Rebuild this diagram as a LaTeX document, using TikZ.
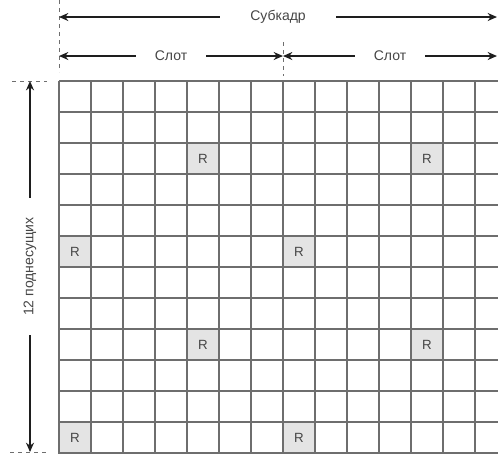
\documentclass[tikz,border=0pt]{standalone}
\usepackage{fontspec}
\setmainfont{Liberation Sans}
\usetikzlibrary{arrows.meta, positioning, calc}
\definecolor{gridgray}{RGB}{110,110,110}
\definecolor{refgray}{RGB}{228,228,228}
\definecolor{labeltext}{RGB}{70,70,70}
\definecolor{dimline}{RGB}{30,30,30}

\begin{document}
\begin{tikzpicture}[x=0.75pt, y=-0.75pt,
  gridline/.style={gridgray, line width=1.5pt},
  rcell/.style={draw=gridgray, line width=1.5pt, fill=refgray, minimum width=24pt,
    minimum height=23.25pt, inner sep=0pt, font=\fontsize{10}{12}\selectfont, text=labeltext},
  dimarr/.style={{Stealth[length=7pt,width=6pt]}-{Stealth[length=7pt,width=6pt]}, dimline, line width=1.2pt},
  dimlbl/.style={fill=white, midway, inner sep=0pt, minimum height=12pt,
    font=\fontsize{10.5}{12}\selectfont, text=labeltext},
  guide/.style={gridgray, line width=0.7pt, dash pattern=on 3pt off 3pt}
]
  \useasboundingbox (0,0) rectangle (498,455);
  \clip (0,0) rectangle (498,455);

  % grid corners and slot boundary
  \coordinate (gtl) at (59,81);
  \coordinate (gbl) at (59,453);
  \coordinate (gmid) at (283,81);

  % resource grid: 14 symbols x 12 subcarriers
  \foreach \c in {0,...,14}
    \draw[gridline] (59+32*\c,81) -- ++(0,372);
  \foreach \r in {0,...,12}
    \draw[gridline] (59,81+31*\r) -- ++(448,0);

  % reference signals
  \foreach \c/\r in {5/3, 12/3, 1/6, 8/6, 5/9, 12/9, 1/12, 8/12}
    \node[rcell] (r-\c-\r) at (59+32*\c-16, 81+31*\r-15.5) {R};

  % guides
  \draw[guide] (59,0) -- (59,72);
  \draw[guide] (283,42) -- (283,76);
  \draw[guide] (12,81) -- (47,81);
  \draw[guide] (10,452) -- (48,452);

  % dimension arrows
  \coordinate (sf-l) at (59,17);
  \coordinate (sf-r) at (497,17);
  \coordinate (s1-l) at (59,56);
  \coordinate (s1-r) at (283,56);
  \coordinate (s2-l) at (283,56);
  \coordinate (s2-r) at (497,56);
  \coordinate (sc-t) at (30,81);
  \coordinate (sc-b) at (30,452);

  \draw[dimarr] (sf-l) -- (sf-r) node[dimlbl, minimum width=87pt] {Субкадр};
  \draw[dimarr] (s1-l) -- (s1-r) node[dimlbl, minimum width=52pt] {Слот};
  \draw[dimarr] (s2-l) -- (s2-r) node[dimlbl, minimum width=52pt] {Слот};
  \draw[dimarr] (sc-t) -- (sc-b) node[dimlbl, rotate=90, minimum width=103pt] {12 поднесущих};
\end{tikzpicture}
\end{document}
